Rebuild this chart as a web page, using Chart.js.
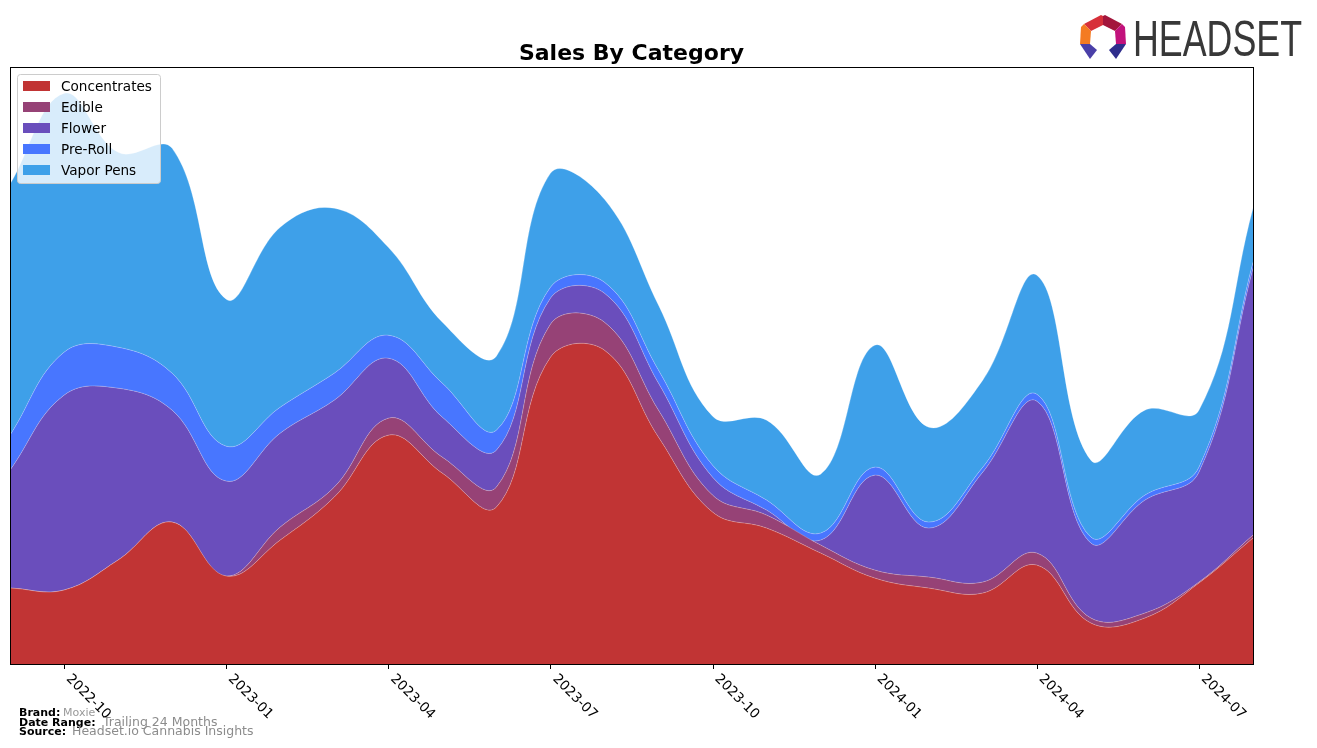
<!DOCTYPE html>
<html>
<head>
<meta charset="utf-8">
<script src="https://cdn.jsdelivr.net/npm/chart.js@4.4.1/dist/chart.umd.min.js"></script>
<style>
html,body{margin:0;padding:0;background:#fff;}
#wrap{position:relative;width:1317px;height:748px;}
</style>
</head>
<body>
<div id="wrap"><canvas id="sales"></canvas></div>
<script>
// monthly points, first of each month
const months = ['2022-09','2022-10','2022-11','2022-12','2023-01','2023-02','2023-03','2023-04',
  '2023-05','2023-06','2023-07','2023-08','2023-09','2023-10','2023-11','2023-12',
  '2024-01','2024-02','2024-03','2024-04','2024-05','2024-06','2024-07','2024-08'];
const tickLabels = ['2022-10','2023-01','2023-04','2023-07','2023-10','2024-01','2024-04','2024-07'];

const concentrates = [76,74,104,142,88,124,167,229,191,157,307,314,227,152,136,111,86,76,71,99,41,46,81,126];
const edible       = [0,0,0,0,0,13,10,17,16,20,33,28,27,17,13,8,8,11,11,12,5,5,1,3];
const flower       = [118,195,172,112,95,94,87,60,40,37,26,29,27,18,5,5,95,49,110,152,75,113,110,267];
const preRoll      = [35,43,41,37,35,26,27,23,34,20,11,11,13,12,10,7,8,6,5,7,6,5,5,6];
const vaporPens    = [251,259,195,225,147,180,165,88,61,74,114,83,65,49,80,59,122,95,87,119,77,85,57,54];

const categories = ['Concentrates','Edible','Flower','Pre-Roll','Vapor Pens'];
const colors = ['#c13434','#964276','#6a4ebc','#4876ff','#3ea0e9'];
const series = [concentrates, edible, flower, preRoll, vaporPens];

const font = '"DejaVu Sans", sans-serif';

const extras = {
  id: 'extras',
  afterDraw(chart) {
    const ctx = chart.ctx;
    const a = chart.chartArea;
    const xs = chart.scales.x;
    ctx.save();

    // frame
    ctx.strokeStyle = '#000';
    ctx.lineWidth = 1;
    ctx.strokeRect(Math.round(a.left) + 0.5, Math.round(a.top) + 0.5,
      Math.round(a.right - a.left), Math.round(a.bottom - a.top));

    // ticks + rotated labels
    ctx.fillStyle = '#000';
    ctx.font = '13.6px ' + font;
    ctx.textAlign = 'left';
    ctx.textBaseline = 'top';
    tickLabels.forEach(lab => {
      const x = xs.getPixelForValue(months.indexOf(lab));
      ctx.beginPath();
      ctx.moveTo(Math.round(x) + 0.5, a.bottom);
      ctx.lineTo(Math.round(x) + 0.5, a.bottom + 5);
      ctx.stroke();
      ctx.save();
      ctx.translate(x + 9, a.bottom + 8);
      ctx.rotate(Math.PI / 4);
      ctx.fillText(lab, 0, 0);
      ctx.restore();
    });

    // legend
    const lx = 17.5, ly = 74.5, lw = 143, lh = 109;
    ctx.beginPath();
    ctx.roundRect(lx, ly, lw, lh, 3);
    ctx.fillStyle = 'rgba(255,255,255,0.8)';
    ctx.fill();
    ctx.strokeStyle = '#cccccc';
    ctx.stroke();
    ctx.textBaseline = 'middle';
    ctx.font = '13.6px ' + font;
    chart.data.datasets.forEach((ds, i) => {
      const cy = 86 + i * 21;
      ctx.fillStyle = ds.backgroundColor;
      ctx.fillRect(23, cy - 5, 27, 10);
      ctx.fillStyle = '#000';
      ctx.fillText(ds.label, 61, cy + 1);
    });

    // footer
    ctx.textBaseline = 'alphabetic';
    const foot = [
      ['Brand:', 'Moxie', 716, 63, '11px', '#999'],
      ['Date Range:', 'Trailing 24 Months', 726, 103, '12.5px', '#8c8c8c'],
      ['Source:', 'Headset.io Cannabis Insights', 735, 72, '12.5px', '#8c8c8c']
    ];
    foot.forEach(f => {
      ctx.font = 'bold 11px ' + font;
      ctx.fillStyle = '#000';
      ctx.fillText(f[0], 19, f[2]);
      ctx.font = f[4] + ' ' + font;
      ctx.fillStyle = f[5];
      ctx.fillText(f[1], f[3], f[2]);
    });

    // logo
    const poly = (pts, c) => {
      ctx.beginPath();
      ctx.moveTo(pts[0][0], pts[0][1]);
      pts.slice(1).forEach(p => ctx.lineTo(p[0], p[1]));
      ctx.closePath();
      ctx.fillStyle = c;
      ctx.fill();
    };
    poly([[1084,24],[1101,15],[1103,16],[1103,25],[1091,31]], '#d7303a');
    poly([[1103,16],[1105,15],[1122,24],[1115,31],[1103,25]], '#a3163c');
    poly([[1084,24],[1091,31],[1090,44],[1080,44],[1081,27]], '#f47b22');
    poly([[1122,24],[1125,27],[1126,44],[1116,44],[1115,31]], '#c2127c');
    poly([[1080,44],[1090,44],[1097,50],[1090,59]], '#4a3fa8');
    poly([[1126,44],[1116,44],[1109,50],[1116,59]], '#2f2d8c');
    ctx.font = '50px "Liberation Sans Narrow", "Liberation Sans", sans-serif';
    ctx.fillStyle = '#383838';
    const w = ctx.measureText('HEADSET').width;
    ctx.save();
    ctx.translate(1133, 56);
    ctx.scale(169 / w, 1);
    ctx.fillText('HEADSET', 0, 0);
    ctx.restore();

    ctx.restore();
  }
};

const salesChart = new Chart(document.getElementById('sales').getContext('2d'), {
  type: 'line',
  data: {
    labels: months,
    datasets: series.map((d, i) => ({
      label: categories[i],
      data: d,
      backgroundColor: colors[i],
      borderColor: 'rgba(255,255,255,0.25)',
      borderWidth: 1,
      fill: i === 0 ? 'origin' : '-1',
      tension: 0.4,
      pointRadius: 0
    }))
  },
  options: {
    responsive: true,
    maintainAspectRatio: false,
    animation: false,
    layout: {
      padding: { left: 10, right: 64, top: 41, bottom: 84 }
    },
    scales: {
      x: { display: false, offset: false },
      y: { display: false, stacked: true, min: 0, max: 597 }
    },
    plugins: {
      legend: { display: false },
      tooltip: { enabled: false },
      title: {
        display: true,
        text: 'Sales By Category',
        color: '#000',
        font: { family: 'DejaVu Sans', size: 22, weight: 'bold' },
        padding: { top: 0, bottom: 0 }
      }
    }
  },
  plugins: [extras]
});
</script>
</body>
</html>
